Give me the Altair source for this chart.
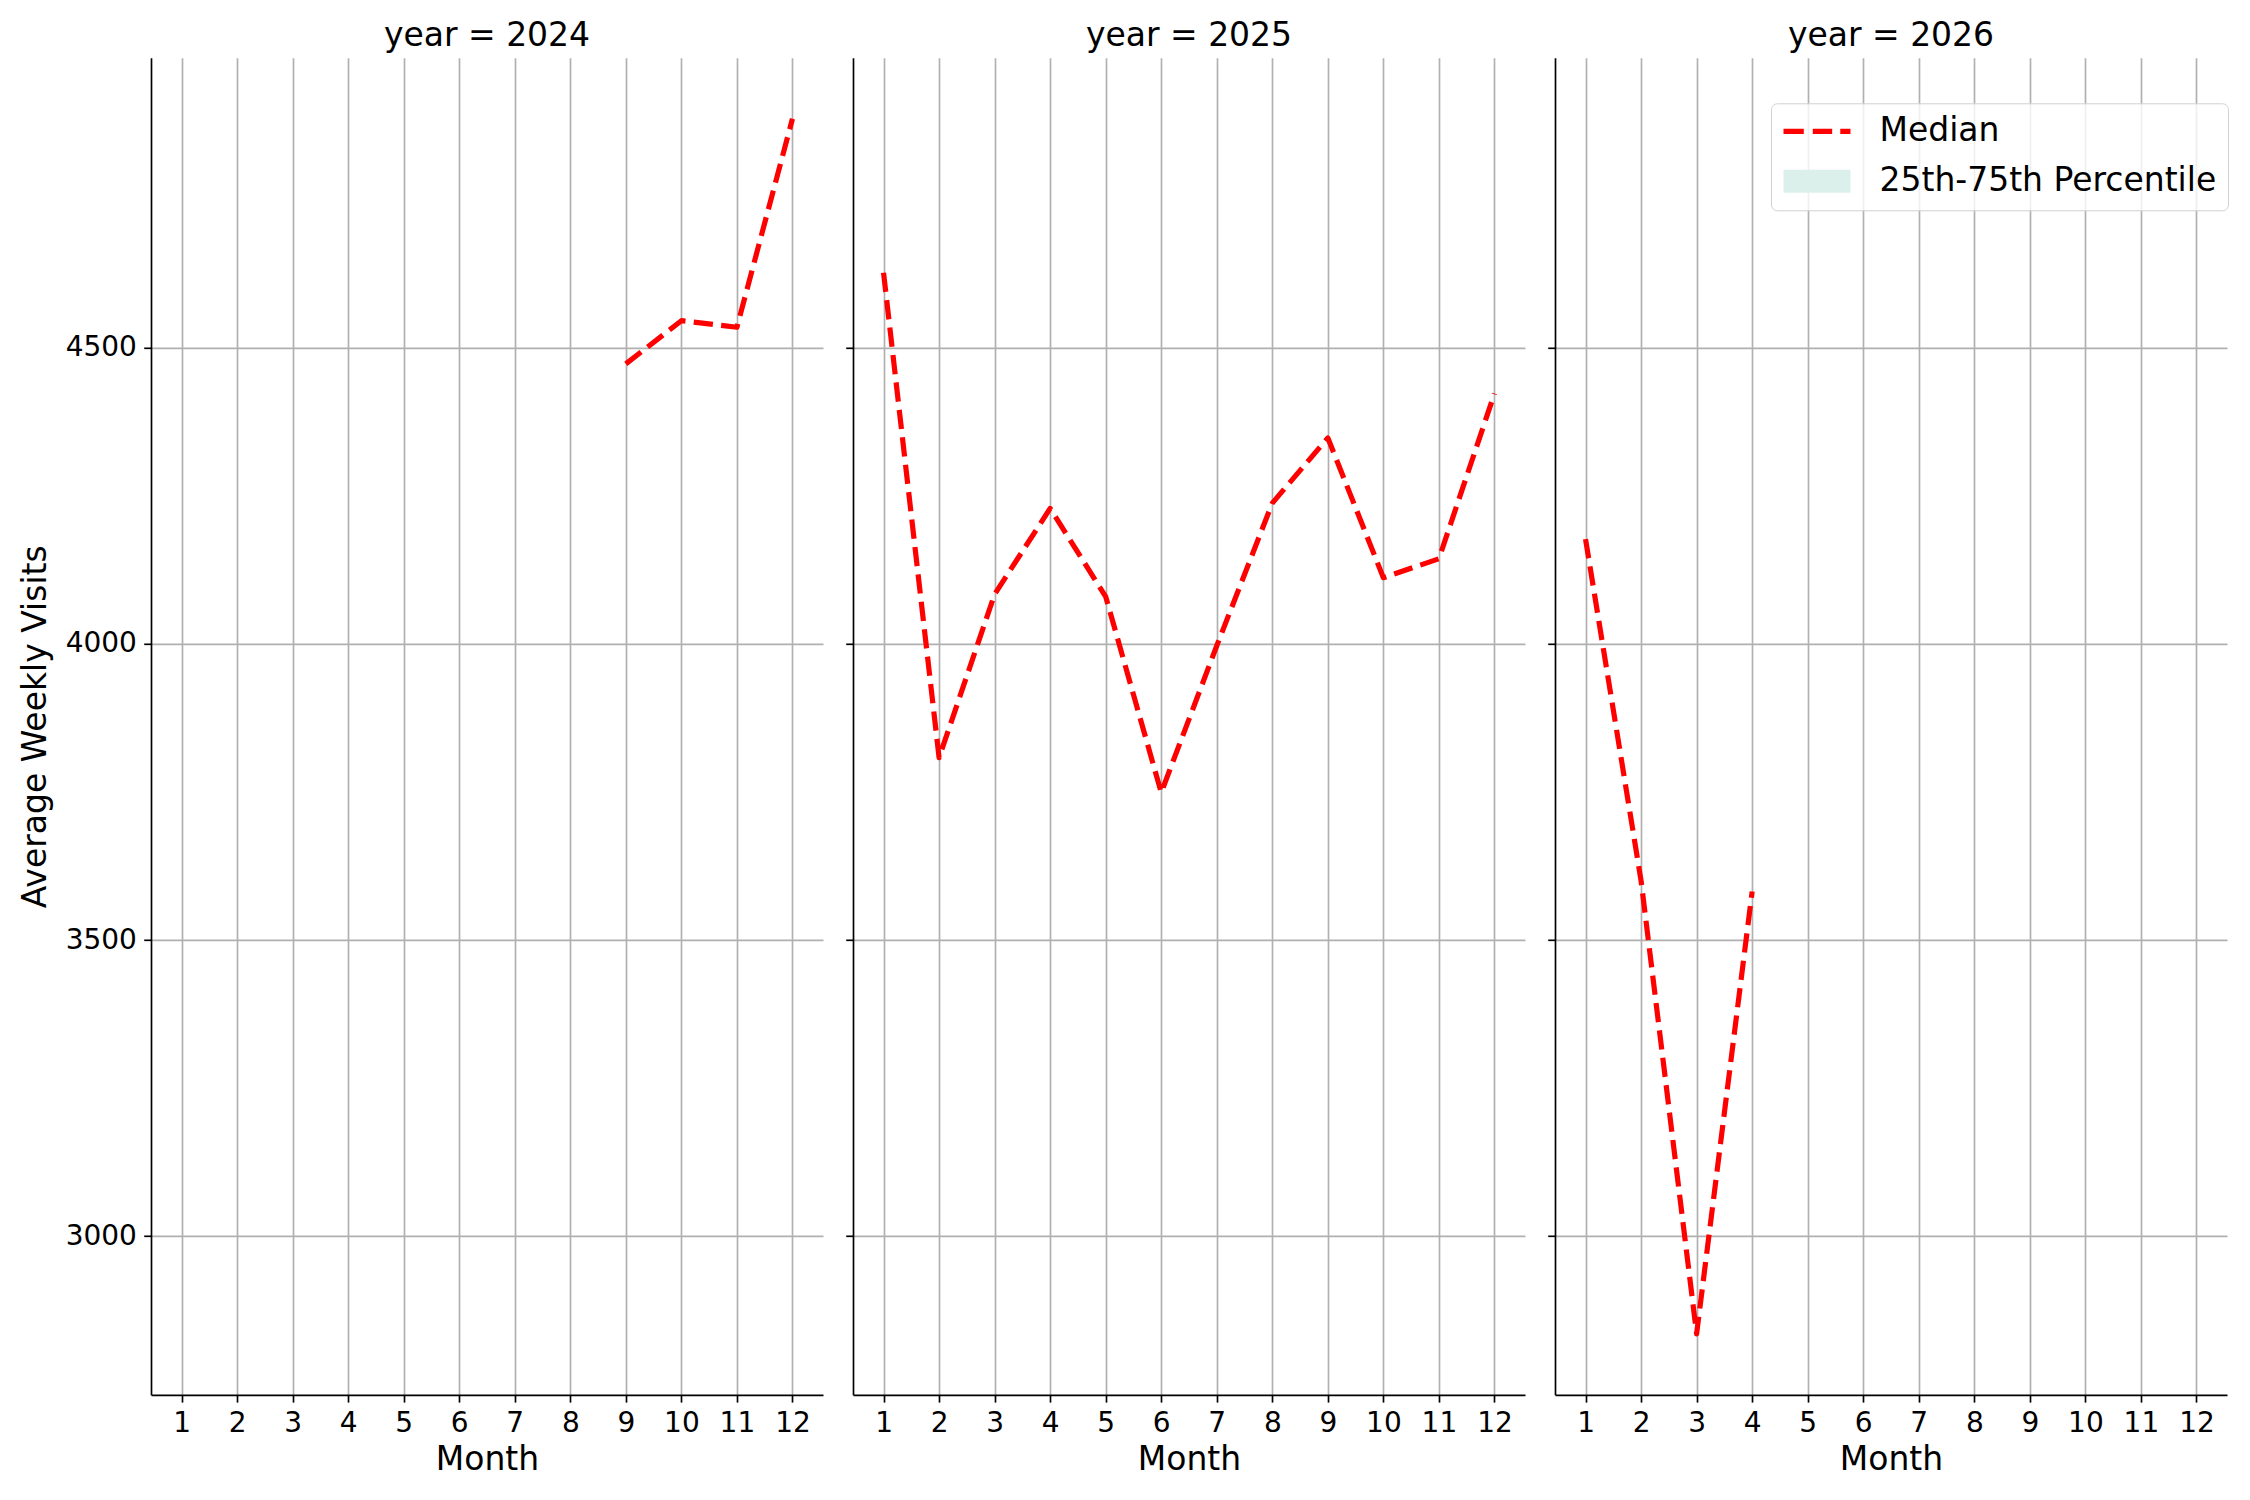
import altair as alt
import pandas as pd

# ---- data ----
years = [2024, 2025, 2026]
months_2024 = [9, 10, 11, 12]
median_2024 = [4473, 4546, 4535, 4887]
months_2025 = [1, 2, 3, 4, 5, 6, 7, 8, 9, 10, 11, 12]
median_2025 = [4627, 3808, 4084, 4229, 4080, 3749, 3997, 4238, 4348, 4112, 4144, 4423]
months_2026 = [1, 2, 3, 4]
median_2026 = [4177, 3600, 2835, 3582]

month_ticks = [1, 2, 3, 4, 5, 6, 7, 8, 9, 10, 11, 12]
y_ticks = [3000, 3500, 4000, 4500]
legend_labels = ["Median", "25th-75th Percentile"]

FONT = "DejaVu Sans"
X_DOMAIN = [0.45, 12.55]
Y_DOMAIN = [2732, 4990]
PANEL_W = 672
PANEL_H = 1337

# legend symbols (custom paths, unit = sqrt(size)/2)
DASH_PATH = ("M-2.03,-0.16L-0.8,-0.16L-0.8,0.16L-2.03,0.16Z "
             "M-0.255,-0.16L0.92,-0.16L0.92,0.16L-0.255,0.16Z "
             "M1.41,-0.16L2.03,-0.16L2.03,0.16L1.41,0.16Z")
RECT_PATH = "M-2.03,-0.7L2.03,-0.7L2.03,0.7L-2.03,0.7Z"


def panel(year, months, medians, first=False, legend=False):
    df = pd.DataFrame({"month": months, "median": medians})
    x_axis = alt.Axis(values=month_ticks, format="d", title="Month", titlePadding=6)
    if first:
        y_axis = alt.Axis(values=y_ticks, format="d", title="Average Weekly Visits", titlePadding=13)
    else:
        y_axis = alt.Axis(values=y_ticks, labels=False, title="")
    x = alt.X("month:Q", scale=alt.Scale(domain=X_DOMAIN, nice=False, zero=False), axis=x_axis)
    y = alt.Y("median:Q", scale=alt.Scale(domain=Y_DOMAIN, nice=False, zero=False), axis=y_axis)
    line = alt.Chart(df).mark_line(
        color="red", strokeDash=[19.3, 8.3], strokeWidth=5.2, strokeJoin="round"
    ).encode(x=x, y=y)
    layers = [line]
    if legend:
        leg = alt.Legend(
            title=None, orient="none", legendX=216, legendY=45.5,
            labelFontSize=33, labelFont=FONT, labelColor="black", labelLimit=1000,
            symbolSize=1089, symbolStrokeWidth=0, symbolOffset=18, labelOffset=46,
            rowPadding=16, padding=11.5, symbolOpacity=1,
            fillColor="rgba(255,255,255,0.8)", strokeColor="#d0d0d0", cornerRadius=6,
        )
        pts = alt.Chart(df).transform_calculate(series="'Median'").transform_filter("false").mark_point(
            filled=True, opacity=1
        ).encode(
            x=x, y=y,
            color=alt.Color("series:N", scale=alt.Scale(domain=legend_labels, range=["red", "#dcf0eb"]), legend=leg),
            shape=alt.Shape("series:N", scale=alt.Scale(domain=legend_labels, range=[DASH_PATH, RECT_PATH]), legend=leg),
        )
        layers.append(pts)
    return alt.layer(*layers).properties(
        width=PANEL_W, height=PANEL_H,
        title=alt.TitleParams(f"year = {year}", fontSize=33, fontWeight="normal", font=FONT,
                              color="black", offset=4.5, anchor="middle"),
    )


c1 = panel(years[0], months_2024, median_2024, first=True)
c2 = panel(years[1], months_2025, median_2025)
c3 = panel(years[2], months_2026, median_2026, legend=True)

chart = alt.hconcat(c1, c2, c3, spacing=30, bounds="flush").resolve_scale(
    color="independent", shape="independent"
).properties(
    padding={"left": 11, "top": 11.8, "right": 2, "bottom": 5}
).configure_view(
    stroke=None
).configure_axis(
    domainColor="black", domainWidth=1.67, tickColor="black", tickWidth=1.67, tickSize=7.3,
    labelPadding=7.3, labelFontSize=28, labelFont=FONT, labelColor="black",
    titleFont=FONT, titleFontSize=33, titleFontWeight="normal", titleColor="black",
    grid=True, gridColor="#b0b0b0", gridWidth=1.67,
)

chart.save("out.html", embed_options={"renderer": "svg", "actions": False})
